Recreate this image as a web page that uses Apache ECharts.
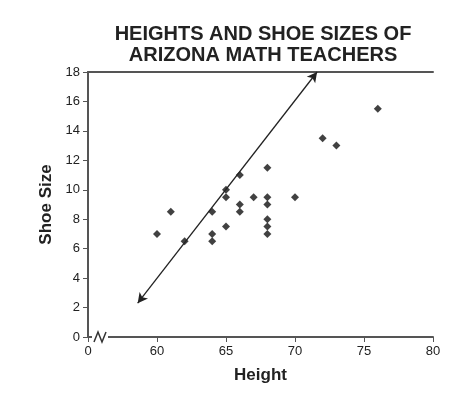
<!DOCTYPE html>
<html lang="en">
<head>
    <meta charset="UTF-8">
    <title>Heights and Shoe Sizes</title>
    <script src="https://cdn.jsdelivr.net/npm/echarts@6/dist/echarts.min.js"></script>
</head>
<body style="margin:0;background:#fff;">
<div id="chart" style="width:461px;height:400px;"></div>
<script>
    var heights = [60, 61, 62, 64, 64, 64, 65, 65, 65, 66, 66, 66, 67, 68, 68, 68, 68, 68, 68, 70, 72, 73, 76];
    var shoeSizes = [7, 8.5, 6.5, 8.5, 7, 6.5, 10, 9.5, 7.5, 11, 9, 8.5, 9.5, 11.5, 9.5, 9, 8, 7.5, 7, 9.5, 13.5, 13, 15.5];
    var trendLine = [[58.6, 2.3], [71.6, 18]];
    var xTicks = [55, 60, 65, 70, 75, 80]; // 55 sits at the axis break and is labelled 0

    var points = heights.map(function (h, i) { return [h, shoeSizes[i]]; });
    var font = 'Liberation Sans, Arial, sans-serif';

    var chart = echarts.init(document.getElementById('chart'));
    chart.setOption({
        animation: false,
        title: {
            text: 'HEIGHTS AND SHOE SIZES OF\nARIZONA MATH TEACHERS',
            left: 258, textAlign: 'center', top: 19,
            textStyle: {fontFamily: font, fontSize: 20, fontWeight: 'bold', color: '#222', lineHeight: 21}
        },
        grid: {left: 88, right: 28, top: 72, bottom: 63},
        xAxis: [{
            type: 'value', min: 55, max: 80, interval: 5,
            name: 'Height', nameLocation: 'middle', nameGap: 30,
            nameTextStyle: {fontFamily: font, fontSize: 17, fontWeight: 'bold', color: '#222'},
            axisLine: {lineStyle: {color: '#555', width: 2}},
            axisTick: {length: 5, lineStyle: {color: '#555'}},
            axisLabel: {fontFamily: font, fontSize: 13, color: '#222',
                formatter: function (v) { return v === 55 ? '0' : String(v); }},
            splitLine: {show: false}
        }, {
            type: 'value', min: 55, max: 80, position: 'top',
            axisLine: {show: true, lineStyle: {color: '#555', width: 2}},
            axisTick: {show: false}, axisLabel: {show: false}, splitLine: {show: false}
        }],
        yAxis: {
            type: 'value', min: 0, max: 18, interval: 2,
            name: 'Shoe Size', nameLocation: 'middle', nameGap: 32,
            nameTextStyle: {fontFamily: font, fontSize: 17, fontWeight: 'bold', color: '#222'},
            axisLine: {show: true, lineStyle: {color: '#555', width: 2}},
            axisTick: {show: true, length: 5, lineStyle: {color: '#555'}},
            axisLabel: {fontFamily: font, fontSize: 13, color: '#222'},
            splitLine: {show: false}
        },
        graphic: [{
            type: 'polyline', z: 100,
            shape: {points: [[94, 342], [98, 332], [102, 342], [106, 332]]},
            style: {stroke: '#333', lineWidth: 1.5, fill: null}
        }, {
            type: 'rect', z: 99, shape: {x: 92, y: 334, width: 16, height: 6},
            style: {fill: '#fff'}
        }],
        series: [{
            type: 'scatter', data: points,
            symbol: 'diamond', symbolSize: 8,
            itemStyle: {color: '#111'},
            markLine: {
                silent: true, symbol: ['arrow', 'arrow'], symbolSize: [8, 10],
                lineStyle: {color: '#222', width: 1.3, type: 'solid'},
                label: {show: false},
                data: [[{coord: trendLine[0]}, {coord: trendLine[1]}]]
            }
        }]
    });
</script>
</body>
</html>
